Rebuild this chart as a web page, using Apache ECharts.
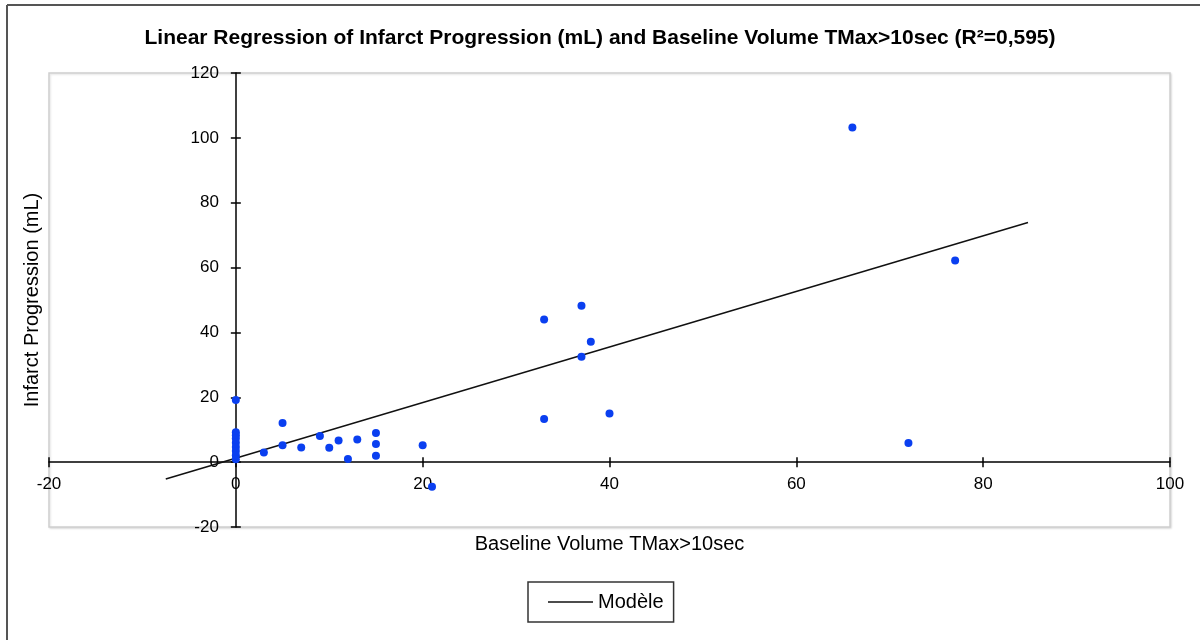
<!DOCTYPE html>
<html>
<head>
<meta charset="utf-8">
<script src="https://cdn.jsdelivr.net/npm/echarts@6/dist/echarts.min.js"></script>
<style>
  html, body { margin: 0; padding: 0; background: #fff; }
  #chart { width: 1200px; height: 640px; }
</style>
</head>
<body>
<div id="chart"></div>
<script>
// observed patients: baseline TMax>10s volume vs infarct progression
const baselineVolume = [0, 0, 0, 0, 0, 0, 0, 0, 0, 3, 5, 5, 7, 9, 10, 11, 12, 13, 15, 15, 15, 20, 21, 33, 33, 37, 37, 38, 40, 66, 72, 77];
const infarctProgression = [19.2, 9.2, 8.3, 7.3, 6.0, 4.7, 3.4, 2.1, 0.9, 3.0, 12.1, 5.2, 4.5, 8.1, 4.4, 6.7, 1.0, 7.0, 9.0, 5.6, 2.0, 5.2, -7.6, 44.0, 13.3, 48.2, 32.5, 37.1, 15.0, 103.2, 5.9, 62.2];

// fitted model line endpoints
const modelX = [-7.5, 84.8];
const modelY = [-5.2, 73.9];

const xTicks = [-20, 0, 20, 40, 60, 80, 100];
const yTicks = [-20, 0, 20, 40, 60, 80, 100, 120];

const font = "Liberation Sans, Arial, sans-serif";

// plot box
const G = { left: 49, right: 30, top: 73, bottom: 113 };
const gridW = 1200 - G.left - G.right;
const gridH = 640 - G.top - G.bottom;
const xMin = xTicks[0], xMax = xTicks[xTicks.length - 1];
const yMin = yTicks[0], yMax = yTicks[yTicks.length - 1];
// axes cross at 0, done with offsets so the labels follow the lines
const zeroFromLeft = gridW * (0 - xMin) / (xMax - xMin);
const zeroFromBottom = gridH * (0 - yMin) / (yMax - yMin);

const chart = echarts.init(document.getElementById("chart"));

const pointData = baselineVolume.map((x, i) => [x, infarctProgression[i]]);
const modelData = modelX.map((x, i) => [x, modelY[i]]);

const tick = { show: true, length: 5, lineStyle: { color: "#000", width: 1.5 } };
const baseX = { type: "value", min: xMin, max: xMax, interval: 20, splitLine: { show: false } };
const baseY = { type: "value", min: yMin, max: yMax, interval: 20, splitLine: { show: false } };

const option = {
  backgroundColor: "#fff",
  animation: false,
  title: {
    text: "Linear Regression of Infarct Progression (mL) and Baseline Volume TMax>10sec (R²=0,595)",
    left: "center",
    top: 22,
    textStyle: {
      fontFamily: font,
      fontSize: 21,
      fontWeight: "bold",
      color: "#000",
      lineHeight: 22,
    },
  },
  legend: {
    data: ["Modèle"],
    left: 528,
    top: 582,
    padding: [10, 10, 10, 20],
    icon: "rect",
    itemWidth: 45,
    itemHeight: 1.5,
    itemGap: 5,
    borderColor: "#333",
    borderWidth: 1.5,
    textStyle: { fontFamily: font, fontSize: 20, color: "#000" },
  },
  grid: {
    show: true,
    left: G.left,
    right: G.right,
    top: G.top,
    bottom: G.bottom,
    outerBoundsMode: "none",
    containLabel: false,
    borderColor: "#cfcfcf",
    borderWidth: 1.5,
    backgroundColor: "#fff",
    shadowColor: "rgba(0,0,0,0.12)",
    shadowBlur: 2,
    shadowOffsetX: 1,
    shadowOffsetY: 1,
  },
  xAxis: [
    Object.assign({}, baseX, {
      position: "bottom",
      offset: -zeroFromBottom,
      name: "Baseline Volume TMax>10sec",
      nameLocation: "middle",
      nameGap: 72,
      nameTextStyle: { fontFamily: font, fontSize: 20, color: "#000" },
      axisLine: { onZero: false, lineStyle: { color: "#000", width: 1.5 } },
      axisTick: tick,
      axisLabel: { margin: 14, fontFamily: font, fontSize: 17, color: "#000" },
    }),
    Object.assign({}, baseX, {
      position: "top",
      offset: -(gridH - zeroFromBottom),
      axisLine: { show: false, onZero: false },
      axisTick: tick,
      axisLabel: { show: false },
    }),
  ],
  yAxis: [
    Object.assign({}, baseY, {
      position: "left",
      offset: -zeroFromLeft,
      name: "Infarct Progression (mL)",
      nameLocation: "middle",
      nameGap: 193,
      nameTextStyle: { fontFamily: font, fontSize: 20, color: "#000" },
      axisLine: { onZero: false, lineStyle: { color: "#000", width: 1.5 } },
      axisTick: tick,
      axisLabel: { margin: 17, fontFamily: font, fontSize: 17, color: "#000" },
    }),
    Object.assign({}, baseY, {
      position: "right",
      offset: -(gridW - zeroFromLeft),
      axisLine: { show: false, onZero: false },
      axisTick: tick,
      axisLabel: { show: false },
    }),
  ],
  graphic: [
    { type: "line", shape: { x1: 7, y1: 5, x2: 1200, y2: 5 }, style: { stroke: "#555", lineWidth: 2 } },
    { type: "line", shape: { x1: 7, y1: 5, x2: 7, y2: 640 }, style: { stroke: "#555", lineWidth: 2 } },
  ],
  series: [
    {
      name: "Observations",
      type: "scatter",
      xAxisIndex: 0,
      yAxisIndex: 0,
      symbol: "circle",
      symbolSize: 8,
      itemStyle: { color: "#0a3ff0", opacity: 1 },
      data: pointData,
      z: 3,
    },
    {
      name: "Modèle",
      type: "line",
      xAxisIndex: 0,
      yAxisIndex: 0,
      symbol: "none",
      itemStyle: { color: "#111" },
      lineStyle: { color: "#111", width: 1.5 },
      data: modelData,
      z: 2,
    },
  ],
};

chart.setOption(option);
</script>
</body>
</html>
